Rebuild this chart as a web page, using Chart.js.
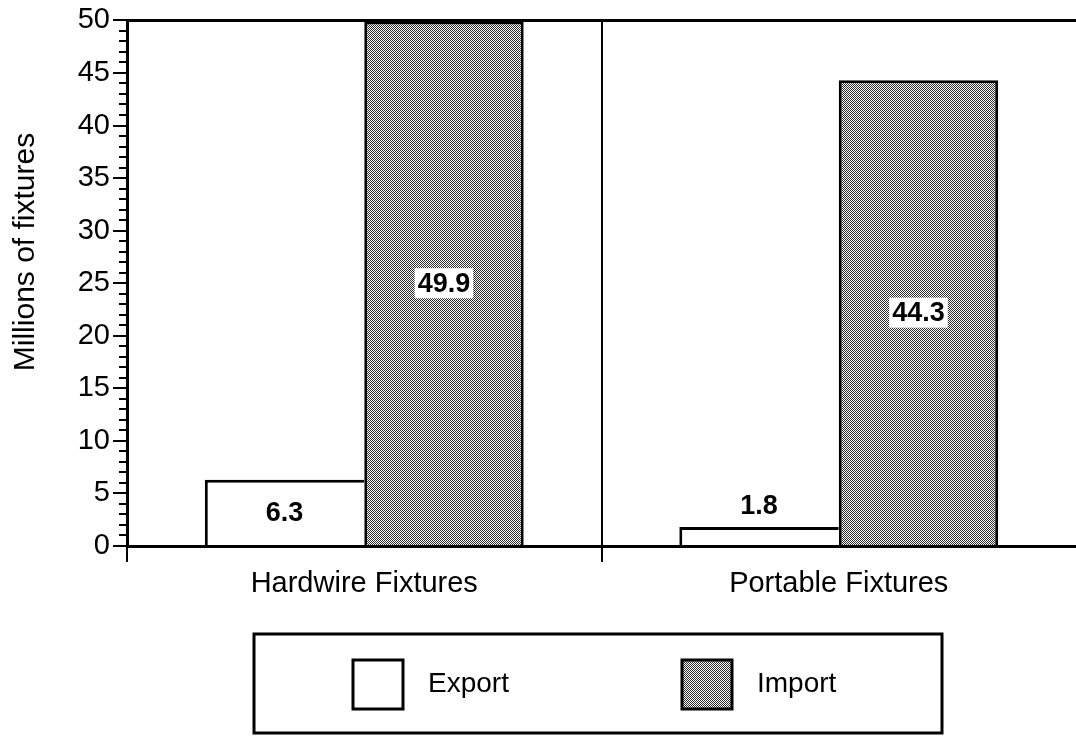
<!DOCTYPE html>
<html>
<head>
<meta charset="utf-8">
<script src="https://cdn.jsdelivr.net/npm/chart.js@4.4.1/dist/chart.umd.min.js"></script>
<style>
  html, body { margin: 0; padding: 0; background: #fff; overflow: hidden; }
  #wrap { position: relative; width: 1076px; height: 737px; }
</style>
</head>
<body>
<div id="wrap"><canvas id="chart"></canvas></div>
<script>
const categories = ['Hardwire Fixtures', 'Portable Fixtures'];
const seriesNames = ['Export', 'Import'];
const exportValues = [6.3, 1.8];
const importValues = [49.9, 44.3];
const yTicks = [0, 5, 10, 15, 20, 25, 30, 35, 40, 45, 50];
const yTitle = 'Millions of fixtures';

const FONT = '"Liberation Sans", Arial, Helvetica, sans-serif';

// dithered grey used for the Import bars
function makeDither() {
  const c = document.createElement('canvas');
  c.width = 2;
  c.height = 2;
  const x = c.getContext('2d');
  x.fillStyle = '#fff';
  x.fillRect(0, 0, 2, 2);
  x.fillStyle = '#2a2a2a';
  x.fillRect(0, 0, 1, 1);
  x.fillRect(1, 1, 1, 1);
  return x.createPattern(c, 'repeat');
}
const dither = makeDither();

const valueLabels = {
  id: 'valueLabels',
  afterDatasetsDraw(chart) {
    const ctx = chart.ctx;
    ctx.save();
    ctx.font = 'bold 27px ' + FONT;
    ctx.textAlign = 'center';
    ctx.textBaseline = 'middle';
    chart.data.datasets.forEach((ds, i) => {
      chart.getDatasetMeta(i).data.forEach((bar, j) => {
        const txt = ds.data[j].toFixed(1);
        const h = bar.base - bar.y;
        const inside = h > 40;
        const y = inside ? (bar.y + bar.base) / 2 : bar.y - 22;
        const w = ctx.measureText(txt).width;
        if (inside) {
          ctx.fillStyle = '#fff';
          ctx.fillRect(bar.x - w / 2 - 3, y - 15, w + 6, 30);
        }
        ctx.fillStyle = '#000';
        ctx.fillText(txt, bar.x, y + 1);
      });
    });
    ctx.restore();
  }
};

const frame = {
  id: 'frame',
  afterDraw(chart) {
    const { ctx, chartArea: a } = chart;
    const y = chart.scales.y;
    ctx.save();
    ctx.strokeStyle = '#000';

    // top border of the plot
    ctx.lineWidth = 3;
    ctx.beginPath();
    ctx.moveTo(a.left - 1, a.top);
    ctx.lineTo(a.right, a.top);
    ctx.stroke();

    // minor ticks on the value axis
    ctx.lineWidth = 2;
    ctx.beginPath();
    for (let v = y.min; v <= y.max; v++) {
      if (v % 5 === 0) continue;
      const py = Math.round(y.getPixelForValue(v));
      ctx.moveTo(a.left - 8, py);
      ctx.lineTo(a.left + 2, py);
    }
    ctx.stroke();

    // axis title
    ctx.fillStyle = '#000';
    ctx.font = '30px ' + FONT;
    ctx.textAlign = 'center';
    ctx.textBaseline = 'middle';
    ctx.translate(26, 252);
    ctx.rotate(-Math.PI / 2);
    ctx.fillText(yTitle, 0, 0);
    ctx.restore();

    // boxed legend
    ctx.save();
    ctx.strokeStyle = '#000';
    ctx.lineWidth = 3;
    ctx.strokeRect(254, 634, 688, 99);
    ctx.font = '28px ' + FONT;
    ctx.textBaseline = 'middle';
    ctx.textAlign = 'left';
    const itemX = [353, 682];
    chart.data.datasets.forEach((ds, i) => {
      const x0 = itemX[i];
      ctx.fillStyle = ds.backgroundColor;
      ctx.fillRect(x0, 660, 50, 49);
      ctx.lineWidth = 3;
      ctx.strokeRect(x0, 660, 50, 49);
      ctx.fillStyle = '#000';
      ctx.fillText(ds.label, x0 + 75, 684);
    });
    ctx.restore();
  }
};

const config = {
  type: 'bar',
  data: {
    labels: categories,
    datasets: [
      {
        label: seriesNames[0],
        data: exportValues,
        backgroundColor: '#fff',
        borderColor: '#000',
        // right edge is shared with the Import bar's left edge
        borderWidth: { top: 3, left: 3, right: 0, bottom: 0 },
        borderSkipped: false
      },
      {
        label: seriesNames[1],
        data: importValues,
        backgroundColor: dither,
        borderColor: '#000',
        borderWidth: { top: 3, left: 3, right: 3, bottom: 0 },
        borderSkipped: false
      }
    ]
  },
  options: {
    responsive: true,
    maintainAspectRatio: false,
    animation: false,
    events: [],
    layout: { padding: { top: 20, right: 0, bottom: 0, left: 0 } },
    datasets: {
      bar: { categoryPercentage: 0.672, barPercentage: 1 }
    },
    plugins: {
      legend: { display: false },
      tooltip: { enabled: false }
    },
    scales: {
      x: {
        afterFit: (s) => { s.height = 191; },
        border: { display: true, color: '#000', width: 3 },
        grid: {
          offset: true,
          drawOnChartArea: true,
          drawTicks: true,
          tickLength: 16,
          lineWidth: 2,
          color: (c) => (c.type === 'tick' ? '#000' : 'rgba(0,0,0,0)')
        },
        ticks: {
          color: '#000',
          padding: 5,
          font: { family: FONT, size: 29 }
        }
      },
      y: {
        min: 0,
        max: 50,
        afterFit: (s) => { s.width = 127; },
        afterBuildTicks: (s) => { s.ticks = yTicks.map((v) => ({ value: v })); },
        border: { display: true, color: '#000', width: 3 },
        grid: {
          drawOnChartArea: false,
          drawTicks: true,
          tickLength: 14,
          lineWidth: 2,
          color: '#000'
        },
        ticks: {
          color: '#000',
          padding: 3,
          font: { family: FONT, size: 29 }
        }
      }
    }
  },
  plugins: [valueLabels, frame]
};

new Chart(document.getElementById('chart'), config);
</script>
</body>
</html>
